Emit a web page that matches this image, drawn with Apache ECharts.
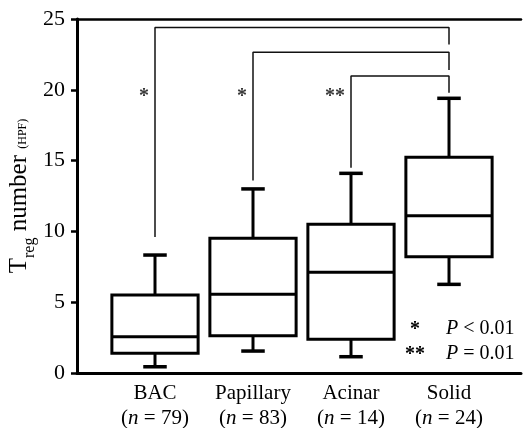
<!DOCTYPE html>
<html>
<head>
<meta charset="utf-8">
<script src="https://cdn.jsdelivr.net/npm/echarts@6/dist/echarts.min.js"></script>
<style>
  html, body { margin: 0; padding: 0; background: #fff; }
  #chart { width: 524px; height: 428px; }
</style>
</head>
<body>
<div id="chart"></div>
<script>
// groups and box statistics
const categories = ['BAC', 'Papillary', 'Acinar', 'Solid']
const counts = [79, 83, 14, 24]
const lowWhisker = [0.44, 1.55, 1.15, 6.26]
const q1 = [1.39, 2.63, 2.38, 8.21]
const median = [2.56, 5.56, 7.11, 11.11]
const q3 = [5.51, 9.51, 10.5, 15.23]
const highWhisker = [8.33, 13.0, 14.1, 19.4]

// y axis
const yMin = 0
const yMax = 25
const yStep = 5
const yTitle = '{t|T}{s|reg}{t| number }{h|(HPF)}'

// significance brackets: each goes from a group to Solid
const bracketFrom = [0, 1, 2]
const bracketTo = 3
const bracketTop = [24.4, 22.65, 20.97]
const bracketLeftEnd = [9.6, 13.6, 14.5]
const bracketRightEnd = [23.2, 21.4, 19.8]
const bracketMarks = ['*', '*', '**']
const markLevel = 19.5

const legendStars = ['*', '**']
const legendTexts = ['{i|P}{a| < 0.01}', '{i|P}{a| = 0.01}']

const serif = '"Liberation Serif", "Times New Roman", serif'
const ink = '#000'

const chart = echarts.init(document.getElementById('chart'))

const boxData = categories.map((c, i) => [i, lowWhisker[i], q1[i], median[i], q3[i], highWhisker[i]])

const bracketSeries = bracketFrom.map((from, k) => ({
  type: 'line',
  xAxisIndex: 2,
  yAxisIndex: 1,
  symbol: 'none',
  silent: true,
  animation: false,
  lineStyle: { color: '#111', width: 1.5 },
  data: [
    [from, bracketLeftEnd[k]],
    [from, bracketTop[k]],
    [bracketTo, bracketTop[k]],
    [bracketTo, bracketRightEnd[k]]
  ]
}))

const legendRich = {
  i: { fontFamily: serif, fontSize: 20, fontStyle: 'italic', fill: ink },
  a: { fontFamily: serif, fontSize: 20, fill: ink }
}

const option = {
  backgroundColor: '#fff',
  animation: false,
  grid: [
    { left: 77, right: 3, top: 19, bottom: 55, containLabel: false, outerBoundsMode: 'none' },
    { left: 106, right: 26, top: 19, bottom: 55, containLabel: false, outerBoundsMode: 'none' }
  ],
  xAxis: [
    {
      type: 'value', gridIndex: 0, min: 0, max: 1,
      axisLine: { show: true, lineStyle: { color: ink, width: 3 } },
      axisTick: { show: false }, axisLabel: { show: false }, splitLine: { show: false }
    },
    {
      type: 'value', gridIndex: 0, position: 'top', min: 0, max: 1,
      axisLine: { show: true, lineStyle: { color: ink, width: 2.5 } },
      axisTick: { show: false }, axisLabel: { show: false }, splitLine: { show: false }
    },
    {
      type: 'category', gridIndex: 1, data: categories, boundaryGap: true,
      axisLine: { show: false }, axisTick: { show: false },
      axisLabel: {
        margin: 8,
        interval: 0,
        formatter: (v, i) => `{a|${v}}\n{a|(}{i|n}{a| = ${counts[i]})}`,
        rich: {
          a: { fontFamily: serif, fontSize: 21, color: ink, lineHeight: 25 },
          i: { fontFamily: serif, fontSize: 21, color: ink, fontStyle: 'italic', lineHeight: 25 }
        }
      }
    }
  ],
  yAxis: [
    {
      type: 'value', gridIndex: 0, min: yMin, max: yMax, interval: yStep,
      axisLine: { show: true, lineStyle: { color: ink, width: 3 } },
      axisTick: { show: true, length: 6, lineStyle: { color: ink, width: 2.5 } },
      axisLabel: { fontFamily: serif, fontSize: 22, color: ink, margin: 12 },
      splitLine: { show: false }
    },
    {
      type: 'value', gridIndex: 1, min: yMin, max: yMax, show: false, splitLine: { show: false }
    }
  ],
  series: [
    ...bracketSeries,
    {
      type: 'scatter',
      xAxisIndex: 2,
      yAxisIndex: 1,
      symbolSize: 0,
      silent: true,
      data: bracketFrom.map((from, k) => ({ value: [from, markLevel], name: bracketMarks[k] })),
      label: {
        show: true,
        position: 'left',
        distance: 6,
        formatter: p => p.name,
        fontFamily: serif,
        fontSize: 20,
        fontWeight: 'bold',
        color: ink
      }
    },
    {
      type: 'custom',
      xAxisIndex: 2,
      yAxisIndex: 1,
      silent: true,
      data: boxData,
      encode: { x: 0, y: [1, 2, 3, 4, 5] },
      renderItem: (params, api) => {
        const i = api.value(0)
        const band = api.size([1, 0])[0]
        const half = band * 0.44
        const capHalf = band * 0.12
        const pLow = api.coord([i, api.value(1)])
        const pQ1 = api.coord([i, api.value(2)])
        const pMed = api.coord([i, api.value(3)])
        const pQ3 = api.coord([i, api.value(4)])
        const pHigh = api.coord([i, api.value(5)])
        const x = pMed[0]
        const st = { stroke: ink, lineWidth: 3, fill: null }
        return {
          type: 'group',
          children: [
            { type: 'line', shape: { x1: x, y1: pLow[1], x2: x, y2: pQ1[1] }, style: st },
            { type: 'line', shape: { x1: x, y1: pQ3[1], x2: x, y2: pHigh[1] }, style: st },
            { type: 'line', shape: { x1: x - capHalf, y1: pLow[1], x2: x + capHalf, y2: pLow[1] }, style: { stroke: ink, lineWidth: 3.5 } },
            { type: 'line', shape: { x1: x - capHalf, y1: pHigh[1], x2: x + capHalf, y2: pHigh[1] }, style: { stroke: ink, lineWidth: 3.5 } },
            { type: 'rect', shape: { x: x - half, y: pQ3[1], width: half * 2, height: pQ1[1] - pQ3[1] }, style: { stroke: ink, lineWidth: 3, fill: '#fff' } },
            { type: 'line', shape: { x1: x - half, y1: pMed[1], x2: x + half, y2: pMed[1] }, style: st }
          ]
        }
      }
    }
  ],
  graphic: [
    {
      type: 'text', x: 22, y: 196, rotation: Math.PI / 2,
      style: {
        text: yTitle,
        align: 'center',
        verticalAlign: 'middle',
        rich: {
          t: { fontFamily: serif, fontSize: 25, fill: ink, verticalAlign: 'bottom', padding: [0, 0, 6, 0] },
          s: { fontFamily: serif, fontSize: 16, fill: ink, verticalAlign: 'bottom' },
          h: { fontFamily: serif, fontSize: 12, fill: ink, verticalAlign: 'bottom', padding: [0, 0, 9, 0] }
        }
      }
    },
    { type: 'text', left: 410, top: 320, style: { text: legendStars[0], font: `bold 20px ${serif}`, fill: ink } },
    { type: 'text', left: 405, top: 345, style: { text: legendStars[1], font: `bold 20px ${serif}`, fill: ink } },
    { type: 'text', left: 446, top: 319, style: { text: legendTexts[0], rich: legendRich } },
    { type: 'text', left: 446, top: 344, style: { text: legendTexts[1], rich: legendRich } }
  ]
}

chart.setOption(option)
</script>
</body>
</html>
